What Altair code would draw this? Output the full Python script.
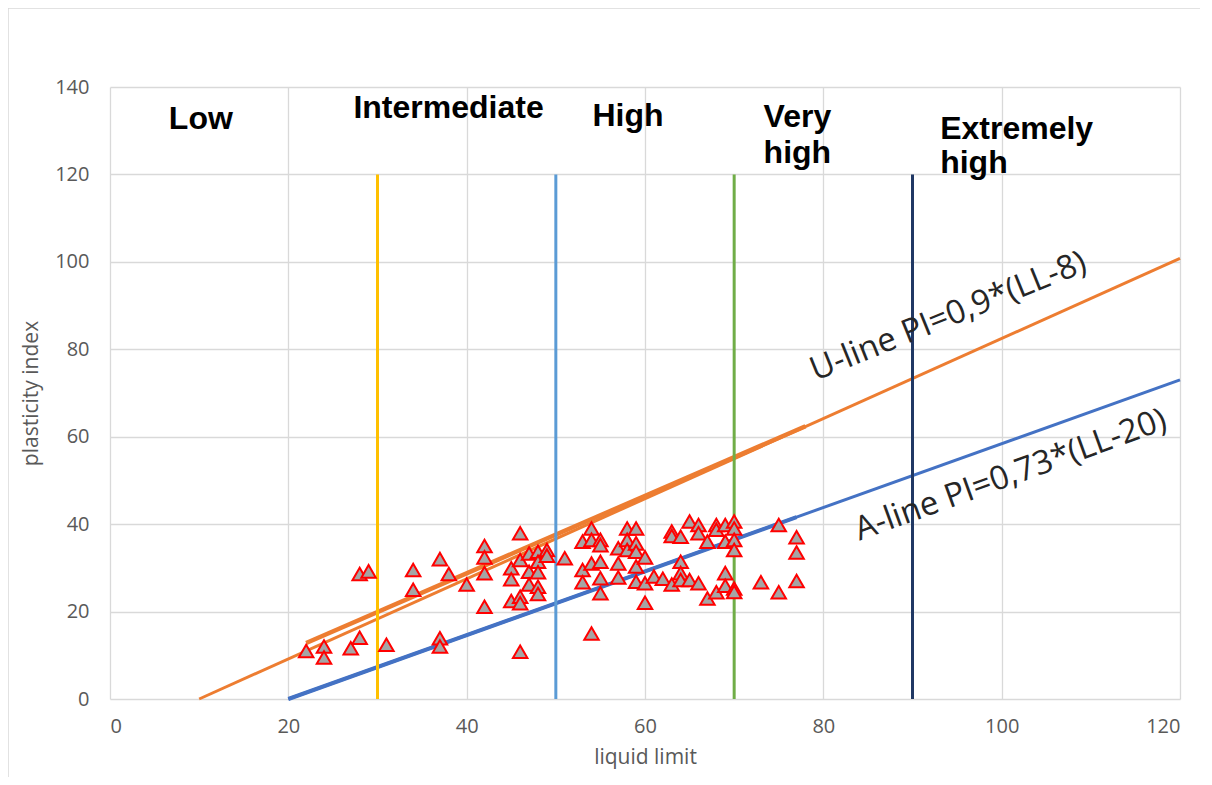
import altair as alt
import pandas as pd

# ---------------- data ----------------
ll_values = [22, 24, 24, 27, 28, 28, 29, 31, 34, 34, 37, 37, 37, 38, 40, 42, 42, 42, 42,
             45, 45, 45, 46, 46, 46, 46, 46, 47, 47, 47, 48, 48, 48, 48, 48, 49, 49, 51,
             53, 53, 53, 54, 54, 54, 54, 55, 55, 55, 55, 55,
             57, 57, 57, 58, 58, 58, 59, 59, 59, 59, 59, 60, 60, 60,
             61, 62, 63, 63, 63, 64, 64, 64, 64, 65, 65, 66, 66, 66, 67, 67, 68, 68, 68,
             69, 69, 69, 69, 70, 70, 70, 70, 70, 70, 73, 75, 75, 77, 77, 77]
pi_values = [11, 12, 9.5, 11.6, 14, 28.6, 29.2, 12.4, 29.5, 25, 32, 13.9, 12, 28.6, 26.2, 35, 32.4, 28.8, 21.1,
             29.9, 27.4, 22.4, 37.9, 31.8, 23.4, 21.9, 10.8, 33.3, 29.1, 26.2, 33.7, 31.4, 29, 25.7, 24, 34.1, 32.8, 32.2,
             36, 29.5, 26.7, 39, 36.4, 31, 15, 36.4, 35.2, 31.4, 27.6, 24.2,
             34.5, 31, 27.8, 39, 36.4, 34.1, 39, 35.6, 33.7, 30.3, 26.8, 32.4, 26.5, 22,
             28, 27.5, 38.3, 37.3, 26.2, 37.1, 31.4, 28.8, 27.2, 40.6, 27.2, 39.8, 37.9, 26.5, 36, 23, 39.8, 38.7, 24.4,
             39.8, 36, 28.8, 25.9, 40.6, 39, 36.4, 34.1, 25.3, 24.5, 26.7, 39.8, 24.4, 37, 33.5, 27]

u_line_ll = [10, 120]
u_line_pi = [0, 100.8]
u_seg_ll = [22, 78]
u_seg_pi = [12.8, 62.4]
a_line_ll = [20, 120]
a_line_pi = [0, 73]
a_seg_ll = [20, 77]
a_seg_pi = [0, 41.6]

boundary_ll = [30, 50, 70, 90]
boundary_top = [120, 120, 120, 120]
boundary_colors = ["#FFC000", "#5B9BD5", "#70AD47", "#203864"]

class_labels = ["Low", "Intermediate", "High", "Very", "high", "Extremely", "high"]
class_label_ll = [6.6, 27.3, 54.1, 73.3, 73.3, 93.1, 93.1]
class_label_pi = [130.4, 133.0, 131.0, 130.9, 122.6, 128.1, 120.3]

line_labels = ["U-line PI=0,9*(LL-8)", "A-line PI=0,73*(LL-20)"]
line_label_ll = [94.0, 101.0]
line_label_pi = [87.5, 51.2]
line_label_angle = [338, 340]

x_ticks = [0, 20, 40, 60, 80, 100, 120]
y_ticks = [0, 20, 40, 60, 80, 100, 120, 140]

# ---------------- tables ----------------
pts = pd.DataFrame({"ll": ll_values, "pi": pi_values})
uline = pd.DataFrame({"ll": u_line_ll, "pi": u_line_pi})
useg = pd.DataFrame({"ll": u_seg_ll, "pi": u_seg_pi})
aline = pd.DataFrame({"ll": a_line_ll, "pi": a_line_pi})
aseg = pd.DataFrame({"ll": a_seg_ll, "pi": a_seg_pi})
bounds = pd.DataFrame({"ll": boundary_ll, "top": boundary_top, "color": boundary_colors, "bottom": [0] * 4})
clabels = pd.DataFrame({"t": class_labels, "ll": class_label_ll, "pi": class_label_pi})
llabels = pd.DataFrame({"t": line_labels, "ll": line_label_ll, "pi": line_label_pi, "a": line_label_angle})

xs = alt.Scale(domain=[0, 120], nice=False, zero=False)
ys = alt.Scale(domain=[0, 140], nice=False, zero=False)

X = alt.X("ll:Q", scale=xs, title="liquid limit",
          axis=alt.Axis(values=x_ticks, labelPadding=17, titlePadding=10))
Y = alt.Y("pi:Q", scale=ys, title="plasticity index",
          axis=alt.Axis(values=y_ticks, labelPadding=21, titlePadding=13))

border = alt.Chart(pd.DataFrame({"d": [0]})).mark_rect(
    fill=None, stroke="#D9D9D9", strokeWidth=1.5
).encode(x=alt.value(-102), x2=alt.value(1200), y=alt.value(-79), y2=alt.value(800))

u_full = alt.Chart(uline).mark_line(color="#ED7D31", strokeWidth=3).encode(x=X, y=Y)
u_thick = alt.Chart(useg).mark_line(color="#ED7D31", strokeWidth=4.5).encode(x="ll:Q", y="pi:Q")
a_full = alt.Chart(aline).mark_line(color="#4472C4", strokeWidth=3).encode(x="ll:Q", y="pi:Q")
a_thick = alt.Chart(aseg).mark_line(color="#4472C4", strokeWidth=4).encode(x="ll:Q", y="pi:Q")

rules = alt.Chart(bounds).mark_rule(strokeWidth=3).encode(
    x="ll:Q", y="bottom:Q", y2="top:Q", color=alt.Color("color:N", scale=None)
)

points = alt.Chart(pts).mark_point(
    shape="triangle-up", size=210, filled=True, fill="#A5A5A5", stroke="#FF0000",
    strokeWidth=2, opacity=1
).encode(x="ll:Q", y="pi:Q")

ctext = alt.Chart(clabels).mark_text(
    font="Liberation Sans", fontSize=32, fontWeight="bold", color="#000000",
    align="left", baseline="alphabetic"
).encode(x="ll:Q", y="pi:Q", text="t:N")

ltext = alt.Chart(llabels).mark_text(
    font="Open Sans", fontSize=33, color="#262626", align="center", baseline="middle"
).encode(x="ll:Q", y="pi:Q", text="t:N", angle=alt.Angle("a:Q", scale=None))

chart = alt.layer(
    border, u_full, a_full, u_thick, a_thick, rules, points, ctext, ltext
).properties(
    width=1070, height=612,
    autosize=alt.AutoSizeParams(type="none"),
    padding={"left": 102, "top": 79, "right": 20, "bottom": 78},
).configure_view(stroke=None).configure_axis(
    grid=True, gridColor="#D9D9D9", gridWidth=1.3, domain=False, ticks=False,
    labelFont="Open Sans", labelFontSize=20, labelColor="#595959",
    titleFont="Open Sans", titleFontSize=21, titleColor="#595959", titleFontWeight="normal",
)

chart.save("out.html", embed_options={"renderer": "svg", "actions": False})
